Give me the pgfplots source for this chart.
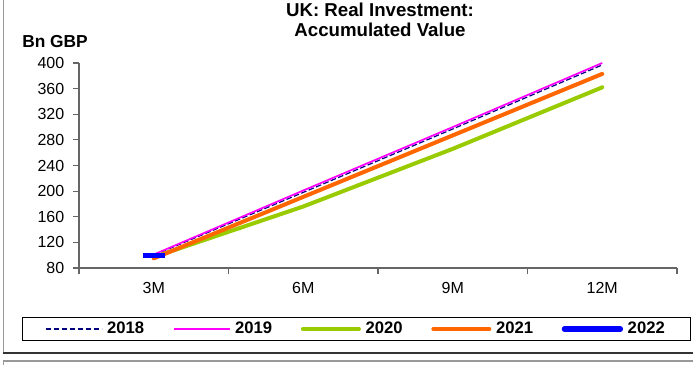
\documentclass[border=0pt]{standalone}
\usepackage{fontspec}
\setmainfont{Liberation Sans}
\usepackage{pgfplots}
\pgfplotsset{compat=1.18}
\definecolor{c2018}{RGB}{0,0,128}
\definecolor{c2019}{RGB}{255,0,255}
\definecolor{c2020}{RGB}{153,204,0}
\definecolor{c2021}{RGB}{255,102,0}
\definecolor{c2022}{RGB}{0,0,255}
\begin{document}
\begin{tikzpicture}[x=0.75pt,y=0.75pt]
\path[use as bounding box] (0,0) rectangle (693,365);
% frame
\draw[black!40, line width=1.2pt] (3.5,365) -- (3.5,12);
\draw[black!80, line width=0.9pt] (3,12) -- (693,12);
\draw[black!40, line width=1.2pt] (3.5,0) -- (3.5,4) -- (693,4);
% title
\node[anchor=base, inner sep=0pt, font=\bfseries\fontsize{14}{16}\selectfont] at (380,348.3) {UK: Real Investment:};
\node[anchor=base, inner sep=0pt, font=\bfseries\fontsize{14}{16}\selectfont] at (380,328.3) {Accumulated Value};
\node[anchor=base west, inner sep=0pt, font=\bfseries\fontsize{13}{15}\selectfont] at (22,317) {Bn GBP};
\begin{axis}[
  at={(59.25pt,72.75pt)}, anchor=south west,
  scale only axis, width=448.5pt, height=153.75pt,
  xmin=0, xmax=4, ymin=80, ymax=400,
  axis x line*=bottom, axis y line*=left,
  axis line style={black!60, line width=0.8pt},
  ytick={80,120,...,400},
  xtick={0,1,2,3,4}, xticklabels={},
  tick align=outside, major tick length=4.5pt,
  tick style={black!60, line width=0.8pt},
  extra x ticks={0.5,1.5,2.5,3.5},
  extra x tick labels={3M,6M,9M,12M},
  extra x tick style={major tick length=0pt, tick label style={yshift=-7.5pt}},
  ticklabel style={font=\fontsize{12}{14}\selectfont},
  yticklabel style={xshift=-3pt},
  /pgf/number format/assume math mode=true,
  clip=false,
  legend columns=5,
  legend style={at={(-0.0953,-0.2976)}, anchor=west, draw=black, line width=0.75pt,
    font=\bfseries\fontsize{12.5}{14}\selectfont,
    /tikz/every odd column/.append style={column sep=1.5pt},
    /tikz/every even column/.append style={column sep=19.5pt},
    inner ysep=1.5pt, inner xsep=17pt},
  legend image code/.code={\draw[#1] (0pt,0pt) -- (42pt,0pt);},
]
\addplot[c2018, line width=0.9pt, dash pattern=on 4.2pt off 1.8pt] coordinates {(0.5,100) (1.5,198) (2.5,297) (3.5,397)};
\addlegendentry{2018}
\addplot[c2019, line width=1.3pt] coordinates {(0.5,101) (1.5,201) (2.5,300) (3.5,400)};
\addlegendentry{2019}
\addplot[c2020, line width=3pt, line cap=round] coordinates {(0.5,97) (1.5,176) (2.5,266) (3.5,362)};
\addlegendentry{2020}
\addplot[c2021, line width=3pt, line cap=round] coordinates {(0.5,95) (1.5,191) (2.5,287) (3.5,383)};
\addlegendentry{2021}
\addplot[c2022, line width=4pt, line cap=round, mark=-, mark size=8.25pt, mark options={solid, line cap=butt}] coordinates {(0.5,100)};
\addlegendentry{2022}
\end{axis}
\end{tikzpicture}
\end{document}
